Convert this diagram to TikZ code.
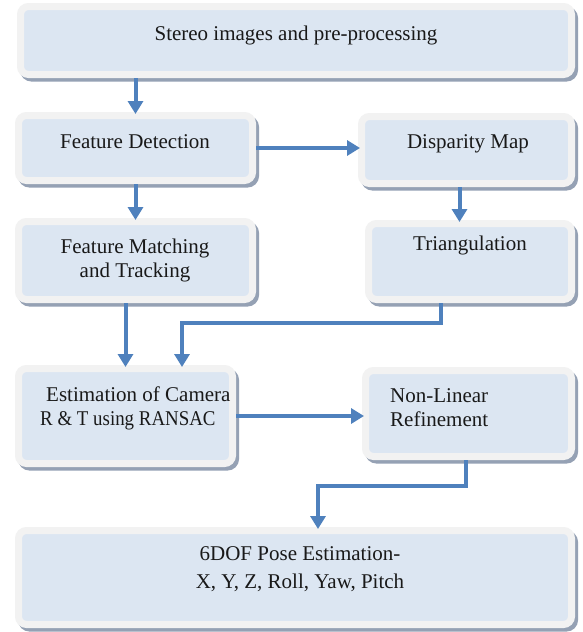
\documentclass[tikz,border=0pt]{standalone}
\usepackage{fontspec}
\usepackage{graphicx}
\setmainfont{Liberation Serif}
\usetikzlibrary{arrows.meta,calc}
\definecolor{boxrim}{HTML}{F2F2F2}
\definecolor{boxfill}{HTML}{DCE6F2}
\definecolor{boxshadow}{HTML}{95A1B4}
\definecolor{flow}{HTML}{4F81BD}
\tikzset{
  stage/.style={rectangle, rounded corners=8pt, fill=boxfill, draw=boxrim,
    line width=7pt, outer sep=3.5pt, inner sep=0pt,
    preaction={draw=boxshadow, fill=boxshadow, line width=7pt,
      transform canvas={xshift=3pt, yshift=-3.5pt}}},
  caption/.style={font=\fontsize{21}{24}\selectfont, inner sep=0pt, text=black!90},
  arr/.style={draw=flow, line width=4pt,
    -{Triangle[width=15pt,length=13pt]}}
}
\begin{document}
\begin{tikzpicture}[x=1pt, y=-1pt]
\useasboundingbox (0,0) rectangle (582,632);
\fill[white] (0,0) rectangle (582,632);

% stage boxes
\node[stage, minimum width=551pt, minimum height=68pt] (B1) at (296,40.5) {};
\node[stage, minimum width=234pt, minimum height=65pt] (FD) at (135.5,148) {};
\node[stage, minimum width=210pt, minimum height=67pt] (DM) at (466.5,150) {};
\node[stage, minimum width=203pt, minimum height=76pt] (TR) at (470,261.5) {};
\node[stage, minimum width=234pt, minimum height=78pt] (FM) at (135.5,260.5) {};
\node[stage, minimum width=214pt, minimum height=95pt] (EC) at (125.5,416) {};
\node[stage, minimum width=206pt, minimum height=86pt] (NL) at (468.5,413.5) {};
\node[stage, minimum width=553pt, minimum height=94pt] (PE) at (295,577.5) {};

% captions
\node[caption] (tB1) at (296,35) {Stereo images and pre-processing};
\node[caption] (tFD) at (135,142) {Feature Detection};
\node[caption] (tDM) at (468,144) {Disparity Map};
\node[caption] (tTR) at (470,245) {Triangulation};
\node[caption, align=center] (tFM) at (135,260) {Feature Matching\\and Tracking};
\node[caption, align=left, anchor=west] (tEC) at (40,408.5)
  {\hspace{6pt}Estimation of Camera\\\scalebox{0.9}[1]{R \& T using RANSAC}};
\node[caption, align=left, anchor=west] (tNL) at (390,408) {Non-Linear\\Refinement};
\node[caption, align=center, font=\fontsize{21}{28}\selectfont] (tPE) at (300,569) {6DOF Pose Estimation-\\X, Y, Z, Roll, Yaw, Pitch};

% flow connectors
\draw[arr] (FD.north |- B1.south) -- ([yshift=-2pt]FD.north);
\draw[arr] (FD.east) -- ([xshift=2pt]FD.east -| DM.west);
\draw[arr] ([xshift=-7pt]DM.south) -- ([xshift=-7pt,yshift=-2pt]DM.south |- TR.north);
\draw[arr] (FD.south) -- ([yshift=-2pt]FM.north);
\draw[arr] (EC.north |- FM.south) -- ([yshift=-2pt]EC.north);
\draw[arr] ([xshift=-29pt]TR.south) -- ++(0,20) -| ([xshift=56.5pt,yshift=-2pt]EC.north);
\draw[arr] (EC.east) -- ([xshift=2pt]EC.east -| NL.west);
\draw[arr] ([xshift=-2.5pt]NL.south) -- ++(0,26) -| ([xshift=23pt,yshift=-2pt]PE.north);
\end{tikzpicture}
\end{document}
